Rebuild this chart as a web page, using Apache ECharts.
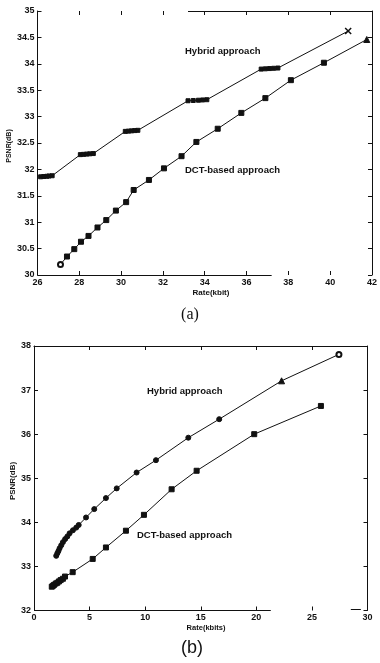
<!DOCTYPE html>
<html>
<head>
<meta charset="utf-8">
<title>PSNR vs Rate</title>
<script src="https://cdn.jsdelivr.net/npm/echarts@6/dist/echarts.min.js"></script>
<style>
  html, body { margin: 0; padding: 0; background: #fff; }
  #chart { width: 380px; height: 663px; }
</style>
</head>
<body>
<div id="chart"></div>
<script>
// Panel (a): rate in kbit, PSNR in dB
const rateA_hybrid = [26.15, 26.3, 26.45, 26.55, 26.7,
                      28.05, 28.2, 28.35, 28.5, 28.67,
                      30.2, 30.35, 30.5, 30.65, 30.8,
                      33.2, 33.45, 33.7, 33.9, 34.1,
                      36.7, 36.9, 37.1, 37.3, 37.5,
                      40.86];
const psnrA_hybrid = [31.86, 31.865, 31.87, 31.875, 31.88,
                      32.28, 32.285, 32.29, 32.295, 32.30,
                      32.72, 32.725, 32.73, 32.735, 32.74,
                      33.30, 33.305, 33.31, 33.315, 33.32,
                      33.90, 33.905, 33.91, 33.915, 33.92,
                      34.62];
const rateA_dct = [27.1, 27.41, 27.76, 28.08, 28.44, 28.87, 29.29, 29.75, 30.24, 30.6,
                   31.33, 32.05, 32.89, 33.6, 34.62, 35.75, 36.9, 38.12, 39.7, 41.75];
const psnrA_dct = [30.20, 30.35, 30.49, 30.63, 30.74, 30.90, 31.04, 31.22, 31.38, 31.61,
                   31.80, 32.02, 32.25, 32.52, 32.77, 33.07, 33.35, 33.69, 34.02, 34.46];

// Panel (b): rate in kbits, PSNR in dB
const rateB_hybrid = [2.0, 2.1, 2.2, 2.3, 2.45, 2.6, 2.8, 3.0, 3.2, 3.5, 3.8,
                      4.02, 4.68, 5.42, 6.47, 7.44, 9.23, 10.97, 13.88, 16.66, 22.27, 27.43];
const psnrB_hybrid = [33.24, 33.30, 33.35, 33.41, 33.48, 33.55, 33.62, 33.68, 33.75, 33.82, 33.88,
                      33.94, 34.11, 34.30, 34.55, 34.77, 35.13, 35.41, 35.92, 36.34, 37.21, 37.81];
const rateB_dct = [1.6, 1.7, 1.8, 1.95, 2.1, 2.25, 2.4, 2.6, 2.79, 3.48,
                   5.28, 6.47, 8.27, 9.89, 12.38, 14.63, 19.81, 25.81];
const psnrB_dct = [32.54, 32.56, 32.58, 32.61, 32.63, 32.66, 32.69, 32.72, 32.77, 32.87,
                   33.17, 33.43, 33.81, 34.17, 34.75, 35.17, 36.00, 36.64];

// Axis ranges and tick steps
const xTicksA = [26, 42, 2];
const yTicksA = [30, 35, 0.5];
const xTicksB = [0, 30, 5];
const yTicksB = [32, 38, 1];

const INK = '#111';
const FONT = 'Liberation Sans';

const pairs = (xs, ys) => xs.map((x, i) => [x, ys[i]]);

function tickLabel(v) {
  return Number.isInteger(v) ? String(v) : v.toFixed(1);
}

function valueAxis(gridIndex, range, position, showLabels, showLine) {
  return {
    type: 'value', gridIndex, position,
    min: range[0], max: range[1], interval: range[2],
    splitLine: { show: false },
    axisLine: { show: showLine, onZero: false, lineStyle: { color: INK, width: 1 } },
    axisTick: { show: true, inside: true, length: 4, lineStyle: { color: INK, width: 1 } },
    axisLabel: {
      show: showLabels, color: INK, fontFamily: FONT, fontSize: 9, fontWeight: 'bold',
      margin: 3, formatter: tickLabel
    }
  };
}

const lineStyle = { color: INK, width: 1 };
const itemStyle = { color: INK, borderColor: INK };

// Panel (a) hybrid marker styles: last point drawn as a cross
const dataA_hybrid = pairs(rateA_hybrid, psnrA_hybrid).map((p, i, arr) =>
  i === arr.length - 1 ? { value: p, symbol: 'path://M0,0L10,10M10,0L0,10', symbolSize: 6,
                           itemStyle: { color: 'none', borderColor: INK, borderWidth: 1.5 } } : p);
const dataA_dct = pairs(rateA_dct, psnrA_dct).map((p, i, arr) => {
  if (i === 0) return { value: p, symbol: 'emptyCircle', symbolSize: 5 };
  if (i === arr.length - 1) return { value: p, symbol: 'triangle', symbolSize: 6 };
  return p;
});
const dataB_hybrid = pairs(rateB_hybrid, psnrB_hybrid).map((p, i, arr) => {
  if (i === arr.length - 1) return { value: p, symbol: 'emptyCircle', symbolSize: 5 };
  if (i === arr.length - 2) return { value: p, symbol: 'triangle', symbolSize: 6 };
  return p;
});
const dataB_dct = pairs(rateB_dct, psnrB_dct);

const frameLine = { color: INK, width: 1, type: 'solid' };

const option = {
  backgroundColor: '#fff',
  animation: false,
  grid: [
    { left: 37.5, top: 11, width: 335, height: 264 },
    { left: 34, top: 346, width: 333.5, height: 264.5 }
  ],
  xAxis: [
    valueAxis(0, xTicksA, 'bottom', true, false),
    valueAxis(0, xTicksA, 'top', false, false),
    valueAxis(1, xTicksB, 'bottom', true, false),
    valueAxis(1, xTicksB, 'top', false, true)
  ],
  yAxis: [
    valueAxis(0, yTicksA, 'left', true, true),
    valueAxis(0, yTicksA, 'right', false, true),
    valueAxis(1, yTicksB, 'left', true, true),
    valueAxis(1, yTicksB, 'right', false, true)
  ],
  series: [
    {
      name: 'Hybrid approach (a)', type: 'line', xAxisIndex: 0, yAxisIndex: 0,
      data: dataA_hybrid, symbol: 'rect', symbolSize: 4, showAllSymbol: true,
      lineStyle, itemStyle,
      markLine: {
        silent: true, symbol: 'none', label: { show: false }, lineStyle: frameLine,
        data: [
          [{ coord: [33.2, 35] }, { coord: [42, 35] }],
          [{ coord: [26, 30] }, { coord: [37.2, 30] }]
        ]
      }
    },
    {
      name: 'DCT-based approach (a)', type: 'line', xAxisIndex: 0, yAxisIndex: 0,
      data: dataA_dct, symbol: 'rect', symbolSize: 5, showAllSymbol: true,
      lineStyle, itemStyle
    },
    {
      name: 'Hybrid approach (b)', type: 'line', xAxisIndex: 2, yAxisIndex: 2,
      data: dataB_hybrid, symbol: 'circle', symbolSize: 5, showAllSymbol: true,
      lineStyle, itemStyle,
      markLine: {
        silent: true, symbol: 'none', label: { show: false }, lineStyle: frameLine,
        data: [
          [{ coord: [0, 32] }, { coord: [21.3, 32] }],
          [{ coord: [28.5, 32.03] }, { coord: [29.4, 32.03] }]
        ]
      }
    },
    {
      name: 'DCT-based approach (b)', type: 'line', xAxisIndex: 2, yAxisIndex: 2,
      data: dataB_dct, symbol: 'rect', symbolSize: 5, showAllSymbol: true,
      lineStyle, itemStyle
    }
  ],
  graphic: [
    // panel (a) annotations and titles
    { type: 'text', left: 185, top: 46, style: { text: 'Hybrid approach', fill: INK, font: 'bold 9.5px "Liberation Sans"' } },
    { type: 'text', left: 185, top: 165, style: { text: 'DCT-based approach', fill: INK, font: 'bold 9.5px "Liberation Sans"' } },
    { type: 'text', x: 211, y: 293, style: { text: 'Rate(kbit)', fill: INK, font: 'bold 8px "Liberation Sans"', textAlign: 'center', textVerticalAlign: 'middle' } },
    { type: 'text', x: 9, y: 146, rotation: Math.PI / 2, style: { text: 'PSNR(dB)', fill: INK, font: 'bold 7px "Liberation Sans"', textAlign: 'center', textVerticalAlign: 'middle' } },
    { type: 'text', x: 190, y: 315, style: { text: '(a)', fill: INK, font: '16px "Liberation Serif"', textAlign: 'center', textVerticalAlign: 'middle' } },
    // panel (b) annotations and titles
    { type: 'text', left: 147, top: 386, style: { text: 'Hybrid approach', fill: INK, font: 'bold 9.5px "Liberation Sans"' } },
    { type: 'text', left: 137, top: 530, style: { text: 'DCT-based approach', fill: INK, font: 'bold 9.5px "Liberation Sans"' } },
    { type: 'text', x: 206, y: 628, style: { text: 'Rate(kbits)', fill: INK, font: 'bold 7.5px "Liberation Sans"', textAlign: 'center', textVerticalAlign: 'middle' } },
    { type: 'text', x: 13, y: 481, rotation: Math.PI / 2, style: { text: 'PSNR(dB)', fill: INK, font: 'bold 8px "Liberation Sans"', textAlign: 'center', textVerticalAlign: 'middle' } },
    { type: 'text', x: 192, y: 648, style: { text: '(b)', fill: INK, font: '18px "Liberation Sans"', textAlign: 'center', textVerticalAlign: 'middle' } }
  ]
};

const chart = echarts.init(document.getElementById('chart'), null, { renderer: 'canvas' });
chart.setOption(option);
</script>
</body>
</html>
